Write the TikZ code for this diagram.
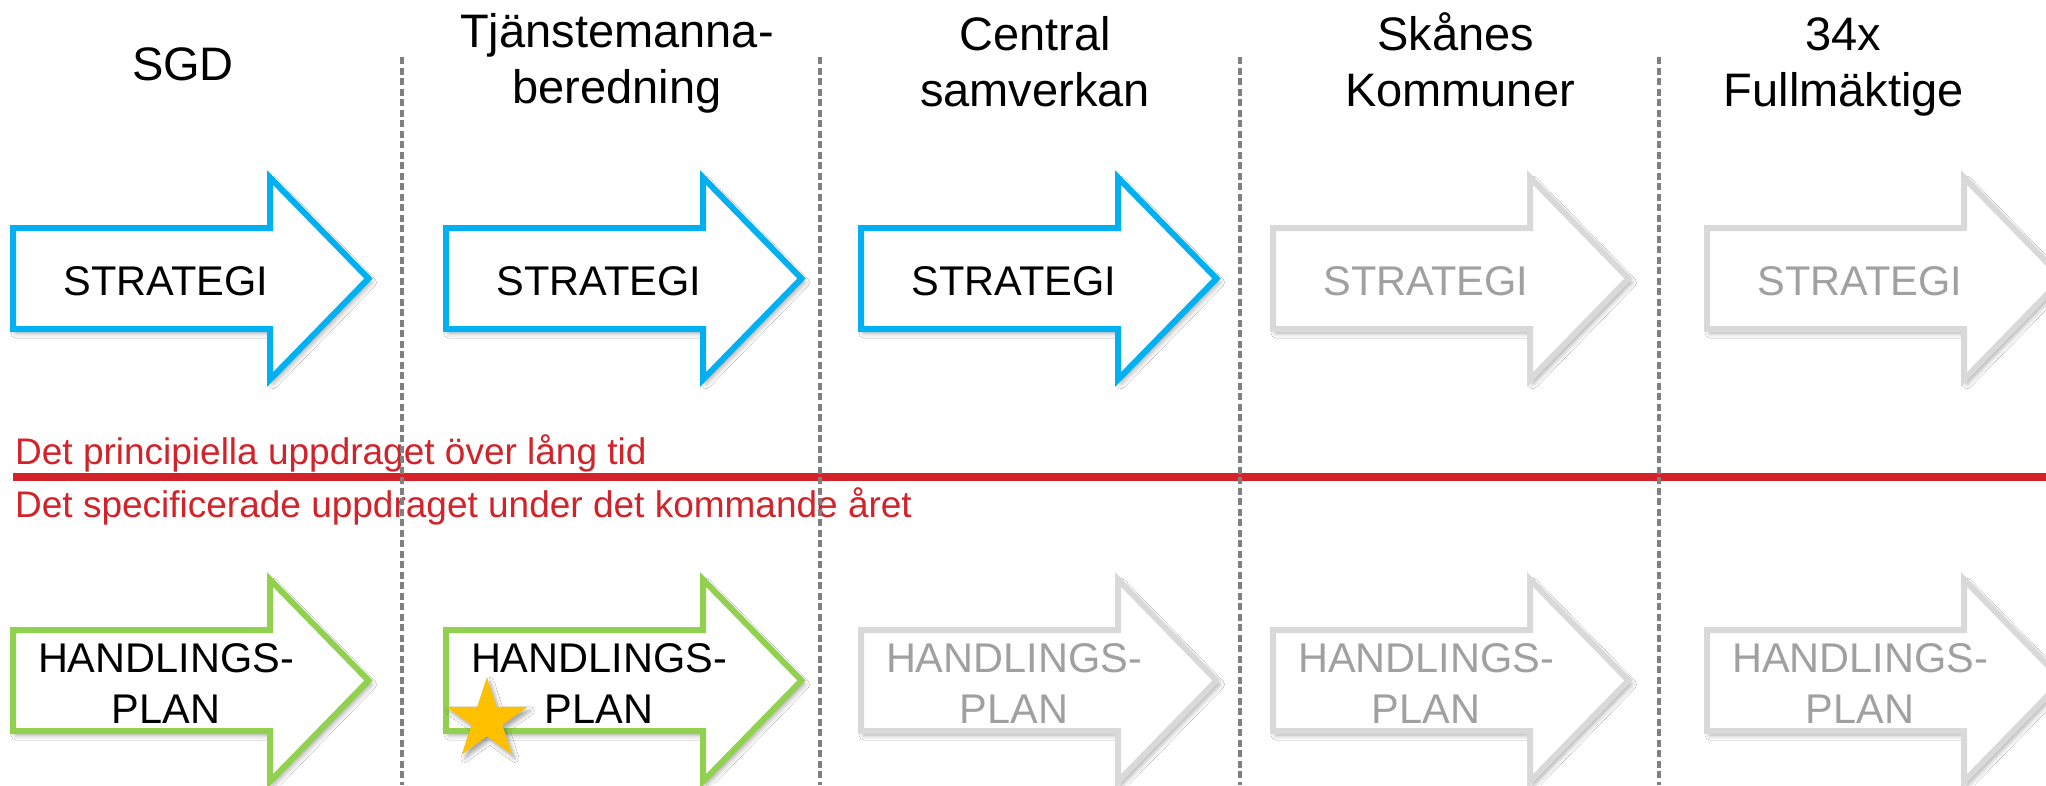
\documentclass[tikz,border=0pt]{standalone}
\usepackage{fontspec}
\setmainfont{Liberation Sans}
\usetikzlibrary{shapes.geometric,shadows.blur}
\definecolor{ablue}{RGB}{0,176,240}
\definecolor{agreen}{RGB}{146,208,80}
\definecolor{agraystroke}{RGB}{217,217,217}
\definecolor{agraytext}{RGB}{160,160,160}
\definecolor{dashgray}{RGB}{128,128,128}
\definecolor{ared}{RGB}{210,35,42}
\definecolor{astar}{RGB}{255,192,0}
\tikzset{
  arrowbase/.style={line width=6pt, line join=miter, fill=white,
    blur shadow={shadow xshift=3pt, shadow yshift=-4pt, shadow blur radius=5pt, shadow opacity=35}},
  bluearrow/.style={arrowbase, draw=ablue},
  greenarrow/.style={arrowbase, draw=agreen},
  grayarrow/.style={arrowbase, draw=agraystroke},
  headtxt/.style={font=\fontsize{47}{56}\selectfont, anchor=base, inner sep=0pt},
  arrowtxt/.style={font=\fontsize{41.5}{50}\selectfont, anchor=base, inner sep=0pt},
  blacktxt/.style={arrowtxt, text=black},
  graytxt/.style={arrowtxt, text=agraytext},
  redtxt/.style={font=\fontsize{37}{44}\selectfont, anchor=base west, inner sep=0pt, text=ared},
  redline/.style={draw=ared, line width=8pt},
  sepline/.style={draw=dashgray, line width=3.5pt, dash pattern=on 7pt off 3.5pt},
}
\newcommand\myarrow[3]{%
  \draw[#3] (#1,#2-50.5) -- (#1+257,#2-50.5) -- (#1+257,#2-101) -- (#1+355.5,#2)
    -- (#1+257,#2+101) -- (#1+257,#2+50.5) -- (#1,#2+50.5) -- cycle;}
\begin{document}
\begin{tikzpicture}[x=1pt,y=-1pt]
\useasboundingbox[fill=white] (0,0) rectangle (2046,785);
\clip (0,0) rectangle (2046,785);

% headings
\node[headtxt] (h1) at (183,80) {SGD};
\node[headtxt] (h2a) at (617,47) {Tjänstemanna-};
\node[headtxt] (h2b) at (617,103) {beredning};
\node[headtxt] (h3a) at (1035,50) {Central};
\node[headtxt] (h3b) at (1035,106) {samverkan};
\node[headtxt] (h4a) at (1456,50) {Skånes};
\node[headtxt] (h4b) at (1460,106) {Kommuner};
\node[headtxt] (h5a) at (1843,50) {34x};
\node[headtxt] (h5b) at (1844,106) {Fullmäktige};

% strategy arrows
\myarrow{13}{278.5}{bluearrow}
\myarrow{446}{278.5}{bluearrow}
\myarrow{861}{278.5}{bluearrow}
\myarrow{1273}{278.5}{grayarrow}
\myarrow{1707}{278.5}{grayarrow}
\node[blacktxt] (s1) at (166,295) {STRATEGI};
\node[blacktxt] (s2) at (599,295) {STRATEGI};
\node[blacktxt] (s3) at (1014,295) {STRATEGI};
\node[graytxt] (s4) at (1426,295) {STRATEGI};
\node[graytxt] (s5) at (1860,295) {STRATEGI};

% action plan arrows
\myarrow{13}{680.5}{greenarrow}
\myarrow{446}{680.5}{greenarrow}
\myarrow{861}{680.5}{grayarrow}
\myarrow{1273}{680.5}{grayarrow}
\myarrow{1707}{680.5}{grayarrow}
\foreach \n/\x/\s in {1/166/blacktxt,2/599/blacktxt,3/1014/graytxt,4/1426/graytxt,5/1860/graytxt}{
  \node[\s] (pa\n) at (\x,672) {HANDLINGS-};
  \node[\s] (pb\n) at (\x,723) {PLAN};
}

% star
\node[star, star points=5, star point ratio=2.618, minimum size=85pt, inner sep=0pt,
  fill=astar, draw=none,
  blur shadow={shadow xshift=3pt, shadow yshift=-4pt, shadow blur radius=4pt, shadow opacity=35}]
  (star) at (487,720) {};

% red divider and texts
\coordinate (rl0) at (13,477);
\coordinate (rl1) at (2046,477);
\draw[redline] (rl0) -- (rl1);
\node[redtxt] (r1) at (15,464) {Det principiella uppdraget över lång tid};
\node[redtxt] (r2) at (15,517) {Det specificerade uppdraget under det kommande året};

% dashed separators
\foreach \i/\x in {1/402,2/820,3/1240,4/1659}{
  \coordinate (d\i t) at (\x,57);
  \coordinate (d\i b) at (\x,785);
  \draw[sepline] (d\i t) -- (d\i b);
}
\end{tikzpicture}
\end{document}
